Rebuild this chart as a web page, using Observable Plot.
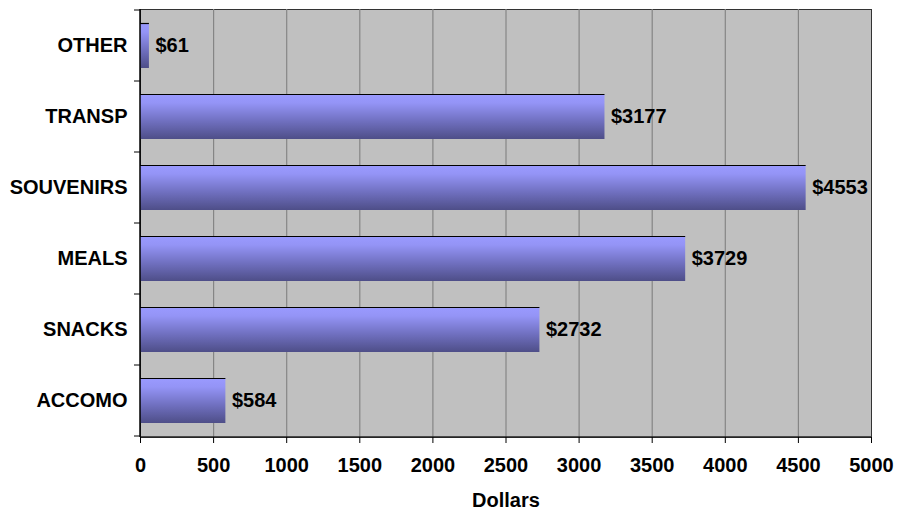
<!DOCTYPE html>
<html>
<head>
<meta charset="utf-8">
<script src="https://cdn.jsdelivr.net/npm/d3@7"></script>
<script src="https://cdn.jsdelivr.net/npm/@observablehq/plot@0.6"></script>
<style>
  html, body { margin: 0; padding: 0; background: #fff; }
</style>
</head>
<body>
<div id="chart"></div>
<script>
const categories = ["ACCOMO", "SNACKS", "MEALS", "SOUVENIRS", "TRANSP", "OTHER"];
const values = [584, 2732, 3729, 4553, 3177, 61];
const xTicks = [0, 500, 1000, 1500, 2000, 2500, 3000, 3500, 4000, 4500, 5000];
const axisTitle = "Dollars";

const data = categories.map((c, i) => ({cat: c, value: values[i]}));
const FONT = "'Liberation Sans', Arial, sans-serif";
const FS = 20;

function defsMark() {
  const svgNS = "http://www.w3.org/2000/svg";
  const g = document.createElementNS(svgNS, "g");
  const defs = document.createElementNS(svgNS, "defs");
  const grad = document.createElementNS(svgNS, "linearGradient");
  grad.setAttribute("id", "barGrad");
  grad.setAttribute("x1", "0"); grad.setAttribute("y1", "0");
  grad.setAttribute("x2", "0"); grad.setAttribute("y2", "1");
  [[0, "#9a9aff"], [0.2, "#9494f6"], [0.6, "#7070c0"], [1, "#4e4e88"]].forEach(([o, c]) => {
    const s = document.createElementNS(svgNS, "stop");
    s.setAttribute("offset", o);
    s.setAttribute("stop-color", c);
    grad.appendChild(s);
  });
  defs.appendChild(grad);
  g.appendChild(defs);
  return g;
}

function decorMark(index, scales, values, dimensions) {
  const y = scales.y, x = scales.x;
  const g = d3.create("svg:g");
  const step = y.step(), bw = y.bandwidth();
  const left = dimensions.marginLeft;
  const bottom = dimensions.height - dimensions.marginBottom;
  const bounds = categories.map(c => y(c) - (step - bw) / 2);
  bounds.push(y(categories[0]) + bw + (step - bw) / 2);
  g.selectAll("line.tk").data(bounds).join("line")
    .attr("x1", left - 6).attr("x2", left)
    .attr("y1", d => d).attr("y2", d => d)
    .attr("stroke", "#000");
  g.selectAll("line.top").data(data).join("line")
    .attr("x1", x(0)).attr("x2", d => x(d.value))
    .attr("y1", d => y(d.cat) + 0.5).attr("y2", d => y(d.cat) + 0.5)
    .attr("stroke", "#000").attr("stroke-width", 1.2);
  g.append("line")
    .attr("x1", left).attr("x2", dimensions.width - dimensions.marginRight)
    .attr("y1", bottom).attr("y2", bottom)
    .attr("stroke", "#222").attr("stroke-width", 1.5);
  g.append("line")
    .attr("x1", left).attr("x2", left)
    .attr("y1", dimensions.marginTop).attr("y2", bottom)
    .attr("stroke", "#000").attr("stroke-width", 1.5);
  return g.node();
}

const chart = Plot.plot({
  width: 898,
  height: 513,
  marginTop: 9,
  marginBottom: 76,
  marginLeft: 140,
  marginRight: 27,
  style: {fontFamily: FONT, fontSize: FS + "px", fontWeight: "bold", color: "#000", background: "#fff", overflow: "visible"},
  x: {domain: [0, 5000], label: null},
  y: {domain: categories.slice().reverse(), paddingInner: 0.37, paddingOuter: 0.185, label: null},
  marks: [
    defsMark,
    Plot.frame({fill: "#c0c0c0", stroke: "#333"}),
    Plot.gridX(xTicks.slice(1, -1), {stroke: "#858585", strokeOpacity: 1, strokeWidth: 1.2}),
    Plot.barX(data, {x: "value", y: "cat", fill: "url(#barGrad)"}),
    Plot.text(data, {x: "value", y: "cat", text: d => "$" + d.value, textAnchor: "start", dx: 6,
      fontSize: FS, fontWeight: "bold", fill: "#000"}),
    decorMark,
    Plot.axisX({ticks: xTicks, tickFormat: d => String(d), tickSize: 6, tickPadding: 14, fontSize: FS, fontWeight: "bold", label: null, stroke: "#000"}),
    Plot.axisY({tickSize: 0, tickPadding: 13, fontSize: FS, fontWeight: "bold", label: null}),
    Plot.text([axisTitle], {frameAnchor: "bottom", dy: 69, fontSize: FS, fontWeight: "bold", fill: "#000"})
  ]
});

document.getElementById("chart").appendChild(chart);
</script>
</body>
</html>
